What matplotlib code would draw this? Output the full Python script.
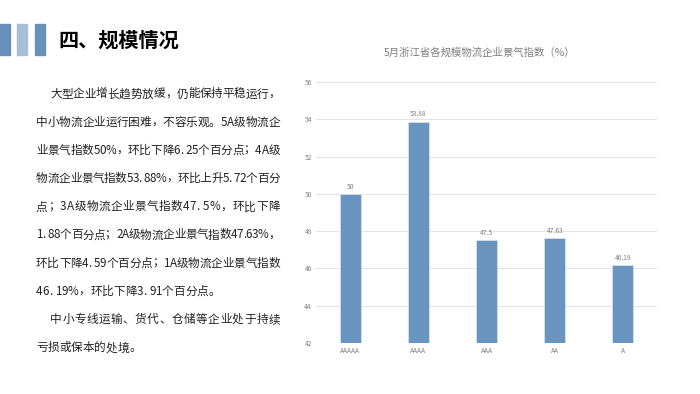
import matplotlib
matplotlib.use("Agg")
import matplotlib.pyplot as plt
from matplotlib.patches import Rectangle
from matplotlib import font_manager
from matplotlib.ft2font import FT2Font, LoadFlags

plt.rcParams['font.family'] = ['Noto Sans CJK SC', 'DejaVu Sans']

# data
categories = ['AAAAA', 'AAAA', 'AAA', 'AA', 'A']
values = [50, 53.88, 47.5, 47.63, 46.19]
value_labels = ['50', '53.88', '47.5', '47.63', '46.19']
y_ticks = [42, 44, 46, 48, 50, 52, 54, 56]

heading = '四、规模情况'
chart_title = '5月浙江省各规模物流企业景气指数（%）'
body_lines = [
    '大型企业增长趋势放缓，仍能保持平稳运行，',
    '中小物流企业运行困难，不容乐观。5A级物流企',
    '业景气指数50%，环比下降6. 25个百分点；4A级',
    '物流企业景气指数53. 88%，环比上升5. 72个百分',
    '点；3A级物流企业景气指数47. 5%，环比下降',
    '1. 88个百分点；2A级物流企业景气指数47.63%，',
    '环比下降4. 59个百分点；1A级物流企业景气指数',
    '46. 19%，环比下降3. 91个百分点。',
    '中小专线运输、货代、仓储等企业处于持续',
    '亏损或保本的处境。',
]
indented = [0, 8]
last_lines = [7, 9]

W, H = 700, 394
fig = plt.figure(figsize=(7, 3.94), dpi=100)
fig.patch.set_facecolor('white')

# header blocks
for x0, c in [(0, '#6790bb'), (17, '#a7bed8'), (35, '#6790bb')]:
    fig.patches.append(Rectangle((x0 / W, 1 - 55 / H), 10 / W, 31 / H,
                                 transform=fig.transFigure, color=c, zorder=1))
fig.text(58 / W, 1 - 40 / H, heading, fontsize=14.5, fontweight='bold',
         va='center', ha='left', color='black')

# body text, justified like the slide
body_size = 8.4
font_path = font_manager.findfont(font_manager.FontProperties(family='Noto Sans CJK SC'))
ft = FT2Font(font_path)
ft.set_size(body_size, 100)


def advance(ch):
    g = ft.load_char(ord(ch), flags=LoadFlags.NO_HINTING)
    return g.linearHoriAdvance / 65536


right_edge = 280
y0, dy = 94, 28.2
for i, line in enumerate(body_lines):
    left = 50 if i in indented else 36
    widths = [advance(c) for c in line]
    gap = 0 if i in last_lines else (right_edge - left - sum(widths)) / (len(line) - 1)
    x = left
    yy = 1 - (y0 + i * dy) / H
    for c, w in zip(line, widths):
        if c != ' ':
            fig.text(x / W, yy, c, fontsize=body_size, va='center', ha='left',
                     color='#222222')
        x += w + gap

# chart
ax = fig.add_axes([316 / W, 1 - 343 / H, 341 / W, 261 / H])
xs = range(len(categories))
bars = ax.bar(xs, [v - 42 for v in values], bottom=42, width=0.31,
              color='#6894bf', edgecolor='#d5e1ed', linewidth=0.6, zorder=3)
for b, lab in zip(bars, value_labels):
    ax.text(b.get_x() + b.get_width() / 2, b.get_y() + b.get_height() + 0.38, lab,
            ha='center', va='center', fontsize=4.8, color='#808080')

ax.set_ylim(42, 56)
ax.set_xlim(-0.5, len(categories) - 0.5)
ax.set_yticks(y_ticks)
ax.set_yticklabels([str(t) for t in y_ticks])
ax.set_xticks(list(xs))
ax.set_xticklabels(categories)
ax.tick_params(axis='both', length=0, labelsize=4.8, labelcolor='#808080', pad=3)
ax.grid(axis='y', color='#e3e3e3', linewidth=0.7, zorder=0)
for s in ax.spines.values():
    s.set_visible(False)
ax.set_facecolor('white')

fig.text(480 / W, 1 - 53 / H, chart_title, fontsize=7.5, color='#7f7f7f',
         ha='center', va='center')

fig.savefig('out.png', dpi=100, facecolor='white')
